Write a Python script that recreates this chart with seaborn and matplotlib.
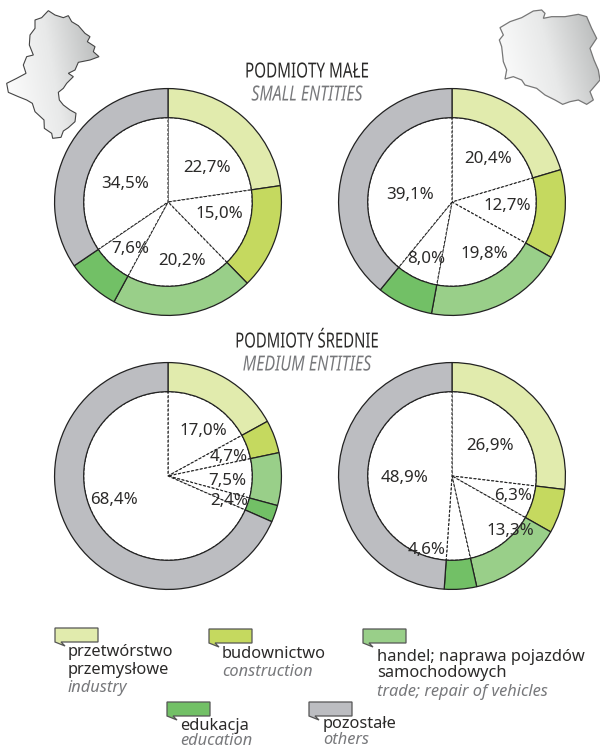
import numpy as np
import matplotlib
matplotlib.use("Agg")
import matplotlib.pyplot as plt
from matplotlib.patches import Polygon
from matplotlib.patheffects import AbstractPathEffect
from matplotlib.transforms import Affine2D
import seaborn as sns

# category names
cats_pl = [["przetwórstwo", "przemysłowe"], ["budownictwo"], ["handel; naprawa pojazdów", "samochodowych"], ["edukacja"], ["pozostałe"]]
cats_en = ["industry", "construction", "trade; repair of vehicles", "education", "others"]
palette = ["#e1ebad", "#c5d95f", "#99cf89", "#72c066", "#bcbdc1"]

# shares in percent
small_region = [22.7, 15.0, 20.2, 7.6, 34.5]
small_poland = [20.4, 12.7, 19.8, 8.0, 39.1]
medium_region = [17.0, 4.7, 7.5, 2.4, 68.4]
medium_poland = [26.9, 6.3, 13.3, 4.6, 48.9]

# outlines of the two maps, traced at 3x
silesia_x = [145, 165, 190, 205, 215, 235, 255, 270, 262, 285, 280, 297, 270, 235, 225, 205, 220, 200, 190, 175, 178, 190, 210, 228, 225, 205, 190, 183, 158, 155, 133, 132, 105, 97, 80, 55, 25, 20, 50, 78, 70, 80, 100, 88, 90, 105, 105, 125]
silesia_y = [17, 30, 38, 32, 50, 62, 85, 95, 110, 125, 140, 155, 165, 172, 195, 205, 215, 235, 250, 262, 285, 300, 315, 325, 350, 368, 378, 397, 400, 385, 370, 345, 320, 295, 285, 275, 262, 235, 220, 205, 180, 155, 150, 120, 90, 70, 45, 38]
poland_x = [30, 60, 95, 130, 155, 165, 160, 185, 225, 265, 290, 305, 320, 300, 312, 325, 330, 300, 310, 290, 265, 240, 218, 195, 165, 140, 105, 95, 70, 45, 50, 40, 35, 28, 40]
poland_y = [68, 50, 38, 18, 15, 25, 40, 35, 35, 28, 35, 70, 100, 130, 165, 195, 225, 260, 285, 298, 285, 290, 298, 285, 270, 250, 240, 225, 215, 222, 195, 170, 125, 105, 90]

sns.set_theme(style="white")
plt.rcParams["font.family"] = ["Noto Sans", "DejaVu Sans"]
dark = "#2b2a29"
grey = "#77787b"

fig = plt.figure(figsize=(6, 7.5), dpi=100)
W, H = 600, 750

page = fig.add_axes([0, 0, 1, 1])
page.set_xlim(0, W)
page.set_ylim(H, 0)
page.axis("off")


# squeezes a text sideways around x0, no narrow font is installed
class Condense(AbstractPathEffect):
    def __init__(self, sx, x0):
        super().__init__()
        self.sx = sx
        self.x0 = x0

    def draw_path(self, renderer, gc, tpath, affine, rgbFace=None):
        squeeze = Affine2D().translate(-self.x0, 0).scale(self.sx, 1).translate(self.x0, 0)
        renderer.draw_path(gc, tpath, affine + squeeze, rgbFace)


def donut(cx, cy, values):
    r = 113
    ax = fig.add_axes([(cx - r - 1) / W, 1 - (cy + r + 1) / H, (2 * r + 2) / W, (2 * r + 2) / H])
    ax.pie(values, radius=84 / 113, startangle=90, counterclock=False, colors=["white"] * 5,
           wedgeprops=dict(edgecolor="#222222", linewidth=0.8, linestyle=(0, (2.5, 1.5))))
    ax.pie(values, radius=1, startangle=90, counterclock=False, colors=palette,
           wedgeprops=dict(width=29 / 113, edgecolor="#222222", linewidth=0.9))
    ax.set_xlim(-1.005, 1.005)
    ax.set_ylim(-1.005, 1.005)
    ax.patch.set_alpha(0)


donut(168, 202, small_region)
donut(452, 202, small_poland)
donut(168, 476, medium_region)
donut(452, 476, medium_poland)
page.set_zorder(5)

# value labels
label_xy = [
    (small_region, [(207, 168), (219, 214), (182, 261), (130, 249), (125, 184)]),
    (small_poland, [(488, 159), (507, 206), (484, 254), (426, 259), (410, 195)]),
    (medium_region, [(203, 431), (229, 457), (227, 481), (229, 501), (114, 500)]),
    (medium_poland, [(490, 446), (513, 496), (510, 531), (427, 550), (405, 478)]),
]
for values, spots in label_xy:
    for v, (x, y) in zip(values, spots):
        page.text(x, y, f"{v:.1f}%".replace(".", ","), fontsize=12.2, color=dark, ha="center", va="center")

# headings
headings = [("PODMIOTY MAŁE", 72, dark, "normal", 0.73), ("SMALL ENTITIES", 95, grey, "italic", 0.76),
            ("PODMIOTY ŚREDNIE", 342, dark, "normal", 0.715), ("MEDIUM ENTITIES", 365, grey, "italic", 0.77)]
for txt, y, col, st, sx in headings:
    t = page.text(307, y, txt, fontsize=15, color=col, style=st, ha="center", va="center")
    t.set_path_effects([Condense(sx, 307)])

# legend
box_xy = [(55, 628), (209, 629), (363, 629), (167, 702), (309, 702)]
text_x = [68, 222, 377, 180, 323]
pl_y = [[652, 670], [654], [657, 673], [726], [724]]
en_y = [688, 672, 692, 741, 740]
for i, (bx, by) in enumerate(box_xy):
    page.add_patch(Polygon([(bx, by), (bx + 43, by), (bx + 43, by + 14), (bx + 6, by + 14), (bx + 10, by + 18), (bx, by + 14)],
                           closed=True, facecolor=palette[i], edgecolor="#555555", linewidth=0.9))
    for line, y in zip(cats_pl[i], pl_y[i]):
        page.text(text_x[i], y, line, fontsize=11.8, color=dark, ha="left", va="center")
    page.text(text_x[i], en_y[i], cats_en[i], fontsize=11.8, style="italic", color=grey, ha="left", va="center")

# the maps, filled with a light metallic sheen
sheen = sns.blend_palette(["#ffffff", "#e8e9e9", "#b4b6b6"], as_cmap=True)
maps = [(np.array(silesia_x) / 3, 5 + np.array(silesia_y) / 3, "#444444", 0.8),
        (490 + np.array(poland_x) / 3, 5 + np.array(poland_y) / 3, "#777777", 0.9)]
for xs, ys, edge, lw in maps:
    outline = Polygon(np.column_stack([xs, ys]), closed=True, facecolor="none", edgecolor=edge, linewidth=lw, zorder=3)
    page.add_patch(outline)
    gx, gy = np.meshgrid(np.linspace(0, 1, 64), np.linspace(1, 0, 64))
    img = page.imshow(gx * 0.8 + gy * 0.2, extent=(xs.min(), xs.max(), ys.max(), ys.min()), cmap=sheen,
                      aspect="auto", zorder=2, origin="upper")
    img.set_clip_path(outline)
page.set_xlim(0, W)
page.set_ylim(H, 0)

fig.savefig("out.png", dpi=100)
